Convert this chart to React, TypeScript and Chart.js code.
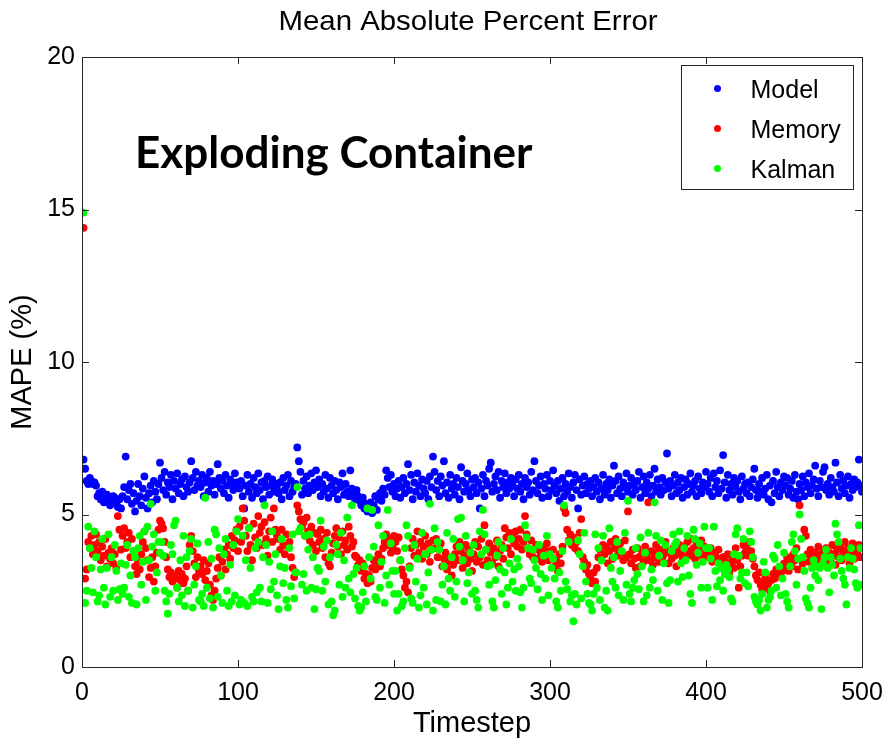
import React, { useEffect, useRef } from "react";
import { Chart, registerables } from "chart.js";

Chart.register(...registerables);

const chartTitle = "Mean Absolute Percent Error";
const annotationText = "Exploding Container";
const xAxisTitle = "Timestep";
const yAxisTitle = "MAPE (%)";
const xTicks = [0, 100, 200, 300, 400, 500];
const yTicks = [0, 5, 10, 15, 20];
const seriesNames = ["Model", "Memory", "Kalman"];
const seriesColors = ["#0000ff", "#ff0000", "#00ff00"];

const model = [
  6.8, 6.5, 6.1, 6.0, 6.2, 6.1, 6.0, 6.05, 5.95, 5.6, 5.7, 5.5, 5.75, 5.4, 5.6, 5.65, 5.5, 5.3, 5.45, 5.6, 5.55, 5.35, 5.25, 5.5, 5.2,
  5.6, 5.9, 6.9, 5.5, 5.8, 6.0, 5.35, 5.7, 5.1, 5.45, 6.0, 5.6, 5.3, 5.85, 6.25, 5.55, 5.2, 5.7, 5.95, 5.4, 6.1, 5.75, 5.5, 6.0, 6.7,
  6.2, 5.8, 6.4, 5.65, 6.05, 5.9, 6.3, 5.5, 6.1, 5.85, 6.35, 5.7, 6.0, 6.15, 5.6, 6.25, 5.9, 5.75, 6.05, 6.75, 6.2, 5.8, 6.4, 5.95, 6.1,
  5.9, 6.3, 5.6, 6.05, 6.2, 5.75, 6.4, 5.95, 6.1, 5.65, 6.0, 6.65, 6.2, 5.85, 6.1, 5.7, 6.3, 5.95, 5.55, 6.15, 6.0, 5.8, 6.35, 6.05, 5.9,
  5.85, 6.1, 5.6, 5.2, 5.95, 6.3, 5.75, 6.0, 5.55, 6.2, 5.9, 5.7, 6.35, 5.8, 6.05, 5.5, 6.1, 5.9, 6.25, 5.65, 5.95, 6.15, 5.75, 6.0, 5.85,
  5.7, 6.05, 5.5, 6.2, 5.8, 5.95, 6.3, 5.6, 6.1, 5.75, 5.9, 6.0, 7.2, 6.75, 6.4, 5.65, 6.1, 5.85, 6.25, 5.7, 5.95, 6.35, 5.8, 6.05, 6.45,
  5.9, 6.15, 5.6, 6.0, 5.75, 6.3, 5.85, 5.55, 6.2, 5.95, 5.7, 6.1, 5.8, 5.5, 6.05, 5.9, 6.35, 5.65, 6.0, 5.75, 5.6, 6.45, 5.85, 5.7, 5.5,
  5.8, 5.6, 5.45, 5.3, 5.55, 5.2, 5.35, 5.1, 5.25, 5.4, 5.05, 5.3, 5.6, 5.15, 5.5, 5.7, 5.45, 5.85, 5.65, 6.45, 6.2, 5.9, 6.3, 5.75, 6.0,
  5.6, 5.85, 6.1, 5.55, 5.9, 6.2, 5.7, 6.0, 6.65, 5.8, 6.3, 5.5, 6.05, 5.75, 6.35, 5.95, 5.6, 6.15, 5.85, 5.7, 6.1, 5.5, 6.25, 5.9, 6.9,
  6.4, 5.8, 6.1, 5.6, 6.25, 5.95, 6.75, 5.7, 6.05, 5.55, 6.3, 5.85, 6.0, 5.65, 6.2, 5.9, 5.5, 6.55, 6.1, 5.75, 6.0, 6.35, 5.8, 5.6, 6.15,
  5.9, 6.2, 5.7, 6.05, 5.2, 5.85, 6.3, 5.6, 6.1, 5.95, 6.5, 6.7, 5.75, 6.0, 6.25, 5.8, 6.4, 5.55, 6.1, 5.9, 6.35, 5.7, 6.05, 5.85, 6.2,
  5.95, 5.6, 6.15, 5.85, 6.3, 5.75, 6.0, 5.5, 6.2, 5.9, 6.05, 5.65, 6.4, 5.8, 6.75, 6.1, 5.7, 5.95, 6.25, 5.55, 6.0, 5.85, 6.3, 5.6, 6.1,
  5.8, 6.45, 5.95, 5.7, 6.1, 5.45, 5.85, 6.2, 5.6, 6.0, 5.75, 6.35, 5.9, 5.55, 6.05, 6.3, 5.8, 5.2, 6.15, 5.65, 5.95, 6.25, 5.7, 6.0, 5.85,
  6.1, 5.6, 5.9, 6.2, 5.75, 6.05, 5.5, 5.85, 6.3, 5.65, 6.0, 5.8, 6.15, 5.55, 5.95, 6.6, 6.1, 5.7, 6.25, 5.85, 5.6, 6.05, 5.9, 6.35, 5.75,
  5.95, 6.2, 5.65, 6.0, 5.8, 6.1, 6.4, 5.55, 5.9, 6.25, 5.7, 6.05, 5.85, 6.3, 5.6, 5.95, 6.5, 5.75, 6.15, 5.9, 5.65, 6.2, 5.8, 6.05, 7.0,
  5.85, 6.1, 5.6, 5.95, 6.3, 5.7, 6.05, 5.8, 6.2, 5.55, 5.9, 6.15, 5.65, 6.0, 6.35, 5.75, 5.95, 6.1, 5.6, 6.25, 5.85, 5.7, 6.05, 5.9, 6.4,
  6.0, 5.75, 6.2, 5.6, 6.35, 5.9, 6.1, 5.7, 6.45, 5.85, 6.95, 6.05, 5.55, 6.3, 5.8, 6.0, 5.65, 6.2, 5.9, 6.1, 5.75, 5.5, 6.25, 5.85, 6.0,
  5.7, 6.05, 5.6, 5.9, 6.15, 6.5, 5.8, 5.55, 6.0, 5.75, 6.2, 5.65, 5.85, 6.3, 5.5, 5.95, 5.4, 6.1, 5.7, 6.4, 5.9, 5.6, 6.05, 5.8, 6.25,
  5.95, 6.2, 5.65, 5.85, 6.1, 5.55, 6.3, 5.75, 5.5, 6.0, 5.8, 6.25, 5.6, 6.05, 5.9, 6.35, 5.7, 5.95, 6.15, 6.6, 5.85, 5.6, 6.1, 5.9, 6.4,
  6.55, 5.8, 6.0, 5.65, 6.2, 5.9, 5.75, 6.7, 6.05, 5.6, 6.3, 5.85, 6.1, 5.7, 5.95, 6.25, 5.55, 6.0, 5.8, 6.15, 5.9, 6.05, 6.8, 5.95, 5.75,
];

const memory = [
  14.4, 2.9, 3.2, 4.1, 3.9, 4.3, 3.7, 4.0, 4.35, 3.8, 4.1, 3.5, 3.95, 3.65, 4.2, 3.3, 3.75, 3.55, 3.9, 3.4, 3.7, 3.25, 4.95, 4.5, 3.85,
  4.3, 4.55, 3.9, 4.1, 4.4, 3.6, 4.2, 3.8, 3.3, 3.05, 3.45, 3.2, 3.7, 4.1, 4.45, 3.9, 3.5, 2.95, 3.25, 3.6, 2.8, 3.3, 3.75, 4.5, 4.8,
  4.7, 4.55, 4.1, 3.6, 3.2, 2.95, 3.1, 2.8, 3.0, 2.9, 2.6, 3.15, 2.85, 3.05, 2.75, 2.9, 3.3, 2.5, 4.0, 4.3, 3.8, 3.4, 2.95, 3.6, 3.15,
  3.3, 3.05, 3.5, 2.85, 3.15, 3.4, 2.7, 2.35, 2.2, 2.5, 2.9, 3.25, 3.6, 3.0, 3.45, 3.85, 3.2, 3.7, 4.0, 3.55, 4.3, 3.9, 4.15, 4.5, 3.8,
  4.6, 4.1, 5.2, 4.8, 4.3, 3.8, 4.55, 4.0, 3.5, 4.7, 4.25, 3.9, 4.95, 4.4, 4.6, 4.0, 4.75, 4.2, 3.65, 4.45, 4.9, 4.1, 5.2, 4.5, 4.3,
  4.2, 3.85, 4.5, 4.0, 3.7, 4.35, 3.95, 4.1, 3.6, 3.25, 2.95, 3.1, 5.3, 5.1, 4.85, 4.6, 4.75, 4.3, 4.9, 4.45, 4.15, 4.6, 4.0, 4.4, 3.8,
  4.35, 4.1, 4.5, 3.9, 4.2, 3.6, 4.4, 3.4, 3.3, 3.75, 4.05, 4.3, 4.55, 3.95, 4.25, 3.7, 4.45, 4.0, 4.15, 3.85, 4.6, 4.3, 3.95, 4.1, 3.65,
  3.6, 3.35, 3.5, 3.15, 3.4, 2.9, 3.05, 2.75, 3.0, 2.8, 3.25, 3.5, 3.2, 3.45, 3.7, 3.3, 3.55, 3.9, 4.1, 4.35, 4.0, 4.2, 3.75, 3.95, 4.3,
  4.1, 3.8, 4.25, 3.5, 3.2, 3.0, 2.6, 2.8, 2.45, 3.3, 3.9, 4.2, 3.65, 4.0, 4.45, 3.75, 4.1, 3.55, 3.95, 4.3, 3.7, 4.05, 3.45, 3.85, 4.15,
  3.9, 4.2, 3.6, 3.85, 4.05, 3.3, 3.55, 3.75, 3.2, 3.45, 3.6, 3.0, 3.35, 3.7, 3.95, 3.5, 4.1, 3.8, 3.25, 3.65, 4.0, 3.4, 3.85, 3.55, 3.15,
  3.7, 4.1, 3.45, 3.95, 3.6, 4.2, 3.35, 4.65, 3.85, 3.5, 4.05, 3.75, 3.4, 3.9, 3.6, 4.15, 3.3, 3.8, 4.0, 3.55, 4.55, 4.25, 3.9, 4.4, 3.7,
  4.3, 4.05, 4.45, 3.95, 4.2, 4.5, 3.85, 4.1, 4.95, 4.35, 3.9, 3.7, 4.15, 3.6, 3.85, 4.0, 3.55, 3.95, 3.75, 3.45, 3.9, 3.65, 4.05, 3.5, 3.8,
  3.6, 3.85, 3.3, 3.5, 3.15, 3.7, 3.4, 3.95, 5.2, 5.05, 4.5, 4.15, 4.35, 4.0, 4.25, 3.9, 4.1, 3.8, 4.4, 4.85, 3.6, 3.45, 3.2, 3.35, 3.05,
  2.9, 2.75, 3.1, 2.8, 3.25, 3.6, 3.85, 3.5, 4.0, 3.7, 3.95, 3.4, 3.8, 4.1, 3.55, 3.9, 4.2, 3.65, 3.85, 4.05, 3.75, 3.5, 4.15, 3.6, 5.1,
  3.7, 3.4, 3.85, 3.55, 3.25, 3.9, 3.6, 3.3, 3.75, 3.45, 3.95, 3.65, 5.4, 3.5, 3.8, 3.35, 3.6, 4.0, 3.75, 3.45, 3.85, 3.55, 3.7, 4.1, 3.8,
  3.4, 3.75, 3.55, 3.9, 3.65, 3.3, 3.85, 4.0, 3.7, 3.5, 3.95, 3.6, 4.1, 3.8, 4.2, 3.65, 3.9, 3.55, 4.05, 3.75, 3.85, 4.15, 3.6, 3.95, 3.7,
  3.8, 3.6, 3.9, 3.45, 3.75, 3.65, 3.5, 3.85, 3.55, 3.35, 3.6, 3.2, 3.45, 3.7, 3.05, 3.4, 3.6, 3.25, 3.9, 3.5, 2.6, 3.3, 3.65, 4.0, 3.75,
  3.9, 3.65, 4.1, 3.8, 3.55, 3.3, 3.0, 2.85, 3.1, 2.7, 2.55, 2.8, 2.95, 2.6, 2.75, 2.5, 2.85, 3.05, 2.9, 3.2, 3.0, 3.25, 2.95, 3.15, 3.4,
  3.35, 3.6, 3.15, 3.45, 3.3, 3.7, 3.5, 3.9, 3.2, 5.3, 3.55, 3.4, 4.5, 4.3, 3.7, 3.45, 3.85, 3.6, 3.3, 3.75, 3.5, 3.95, 3.65, 3.4, 3.8,
  3.6, 3.9, 3.45, 3.75, 3.55, 4.0, 3.7, 3.35, 3.85, 3.6, 3.95, 3.5, 3.8, 4.1, 3.65, 3.9, 3.4, 3.75, 4.05, 3.55, 3.85, 3.7, 4.0, 3.6, 3.9,
];

const kalman = [
  14.9, 2.1, 2.5, 4.6, 3.9, 3.25, 2.45, 4.45, 3.6, 2.15, 2.35, 3.2, 4.2, 2.6, 2.05, 3.25, 4.35, 2.3, 3.6, 2.5, 4.0, 3.15, 2.2, 2.55, 3.4,
  2.4, 2.6, 3.35, 4.0, 2.3, 3.0, 2.1, 3.8, 3.6, 2.05, 3.9, 4.3, 2.7, 3.45, 4.45, 2.2, 4.6, 3.5, 5.35, 3.95, 4.35, 2.5, 3.1, 4.1, 3.75,
  4.1, 3.65, 2.5, 2.15, 1.75, 2.4, 4.0, 3.7, 4.65, 4.8, 2.6, 2.15, 3.5, 2.35, 4.3, 2.0, 3.6, 2.5, 3.8, 4.2, 1.95, 2.7, 3.3, 4.05, 2.2,
  2.15, 2.4, 2.0, 5.55, 2.6, 4.1, 2.25, 3.55, 1.95, 4.5, 4.35, 2.3, 3.9, 3.0, 2.1, 3.7, 4.2, 2.5, 2.0, 3.35, 2.15, 4.0, 2.35, 4.45, 4.85,
  2.05, 2.2, 4.3, 2.1, 3.5, 2.0, 4.55, 3.25, 2.3, 2.15, 3.9, 2.45, 4.1, 2.6, 2.15, 3.6, 5.3, 4.0, 2.1, 3.45, 2.55, 4.45, 2.8, 3.7, 2.35,
  1.9, 3.3, 4.2, 2.75, 3.25, 2.2, 1.95, 3.9, 2.65, 4.35, 2.25, 3.1, 5.9, 4.45, 4.55, 2.7, 3.05, 4.3, 2.5, 3.85, 4.35, 2.6, 3.6, 1.9, 2.55,
  3.25, 3.15, 4.8, 2.5, 3.95, 2.8, 4.15, 2.05, 3.6, 2.15, 1.7, 1.85, 4.0, 3.7, 2.7, 4.4, 2.3, 3.5, 2.6, 4.9, 2.9, 2.45, 5.3, 3.05, 2.25,
  3.25, 2.0, 1.85, 1.95, 2.45, 3.3, 2.15, 5.2, 3.6, 2.9, 5.15, 3.95, 2.3, 2.2, 4.65, 2.6, 3.45, 4.3, 2.1, 3.0, 5.15, 2.7, 4.05, 3.15, 2.4,
  3.15, 1.85, 2.4, 3.5, 2.0, 2.15, 3.9, 4.65, 4.3, 3.25, 2.25, 2.1, 4.0, 2.8, 3.55, 1.95, 2.35, 4.4, 2.6, 3.7, 2.05, 3.1, 5.35, 3.85, 1.85,
  4.55, 2.2, 4.1, 3.85, 2.15, 2.7, 3.3, 2.05, 4.4, 2.9, 2.5, 3.6, 4.2, 2.3, 2.8, 4.85, 3.95, 4.9, 3.5, 2.15, 4.3, 2.75, 3.1, 3.75, 2.4,
  4.0, 2.5, 2.2, 1.95, 4.45, 3.7, 5.15, 4.35, 3.85, 3.3, 2.7, 3.35, 2.15, 1.95, 2.85, 3.65, 4.1, 3.2, 2.4, 3.9, 3.1, 2.05, 2.6, 3.4, 4.2,
  2.8, 3.2, 2.5, 3.55, 3.3, 2.45, 1.95, 2.6, 4.65, 4.25, 3.9, 2.9, 2.75, 3.85, 3.5, 3.25, 2.55, 4.0, 3.05, 2.2, 3.65, 2.9, 4.3, 2.35, 3.7,
  3.25, 3.55, 2.9, 2.15, 1.95, 3.1, 2.5, 3.8, 5.3, 2.8, 2.55, 4.1, 2.15, 2.35, 1.5, 2.4, 2.05, 4.15, 3.7, 2.25, 3.3, 4.4, 2.8, 2.4, 2.1,
  2.05, 1.85, 2.4, 4.35, 2.6, 3.9, 2.2, 3.5, 4.3, 1.95, 2.5, 1.85, 4.55, 3.25, 2.8, 3.6, 2.6, 4.1, 2.35, 3.15, 3.8, 2.2, 4.4, 2.7, 5.45,
  2.4, 2.15, 2.6, 2.85, 3.9, 3.05, 2.55, 4.25, 3.3, 2.15, 3.75, 2.35, 4.4, 2.6, 3.2, 2.85, 5.4, 4.3, 2.5, 3.65, 4.15, 2.2, 3.4, 4.0, 2.75,
  2.1, 2.85, 3.8, 4.35, 4.0, 4.1, 2.8, 4.45, 3.4, 2.95, 3.9, 3.5, 4.3, 3.0, 2.4, 2.1, 4.5, 4.2, 3.35, 3.75, 4.05, 2.6, 3.45, 4.6, 3.9,
  2.6, 3.9, 3.55, 2.2, 4.6, 3.15, 2.65, 3.4, 2.85, 3.25, 2.5, 3.05, 3.35, 3.2, 2.95, 2.25, 2.15, 3.7, 4.35, 4.55, 3.65, 2.9, 3.1, 4.2, 2.75,
  3.1, 2.65, 4.45, 4.1, 3.6, 2.3, 2.15, 2.05, 2.2, 1.85, 2.4, 3.45, 3.1, 1.95, 2.2, 2.3, 2.5, 3.65, 3.55, 2.6, 4.0, 3.3, 2.35, 2.9, 3.75,
  2.4, 2.15, 1.95, 3.3, 4.1, 4.35, 3.8, 2.7, 3.55, 5.0, 4.2, 3.6, 3.15, 2.25, 2.1, 1.95, 2.6, 3.25, 3.5, 3.0, 3.3, 2.85, 3.25, 1.9, 3.4,
  3.6, 3.85, 3.25, 2.45, 3.6, 3.35, 3.0, 4.7, 4.35, 4.1, 3.55, 3.15, 2.9, 2.7, 2.05, 3.6, 3.25, 3.9, 3.55, 3.2, 2.75, 2.6, 4.65, 3.9, 2.7,
];

const seriesValues = [model, memory, kalman];
const annotationAt = { x: 34, y: 16.35 };

const FONT = "'Liberation Sans', Arial, sans-serif";

function toPoints(values: number[]) {
  return values.map((v, i) => ({ x: i + 1, y: v }));
}

const framePlugin = {
  id: "matlabFrame",
  afterDatasetsDraw(chart: any) {
    const { ctx, chartArea, scales } = chart;
    const { left, right, top, bottom } = chartArea;
    const xs = scales.x;
    const ys = scales.y;
    ctx.save();

    // title, centred over the plot box, slightly widened like the MATLAB rendering
    ctx.fillStyle = "#000";
    ctx.font = `28px ${FONT}`;
    ctx.textAlign = "center";
    ctx.textBaseline = "alphabetic";
    ctx.save();
    ctx.translate((left + right) / 2 - 4, top - 27);
    ctx.scale(1.05, 1);
    ctx.fillText(chartTitle, 0, 0);
    ctx.restore();

    // axes box with inward ticks
    ctx.strokeStyle = "#262626";
    ctx.lineWidth = 1;
    ctx.strokeRect(Math.round(left) + 0.5, Math.round(top) + 0.5, Math.round(right - left), Math.round(bottom - top));
    const tl = 7;
    ctx.beginPath();
    xTicks.forEach((v) => {
      const px = Math.round(xs.getPixelForValue(v)) + 0.5;
      ctx.moveTo(px, bottom);
      ctx.lineTo(px, bottom - tl);
      ctx.moveTo(px, top);
      ctx.lineTo(px, top + tl);
    });
    yTicks.forEach((v) => {
      const py = Math.round(ys.getPixelForValue(v)) + 0.5;
      ctx.moveTo(left, py);
      ctx.lineTo(left + tl, py);
      ctx.moveTo(right, py);
      ctx.lineTo(right - tl, py);
    });
    ctx.stroke();

    // annotation
    ctx.fillStyle = "#000";
    ctx.font = "bold 44px Lato, 'Open Sans', sans-serif";
    ctx.textAlign = "left";
    ctx.textBaseline = "alphabetic";
    ctx.fillText(annotationText, xs.getPixelForValue(annotationAt.x), ys.getPixelForValue(annotationAt.y));

    // legend
    const bw = 172;
    const bh = 124;
    const bx = Math.round(right - 181) + 0.5;
    const by = Math.round(top + 8) + 0.5;
    ctx.fillStyle = "#fff";
    ctx.fillRect(bx, by, bw, bh);
    ctx.strokeStyle = "#262626";
    ctx.strokeRect(bx, by, bw, bh);
    ctx.font = `25px ${FONT}`;
    ctx.textBaseline = "middle";
    seriesNames.forEach((name, i) => {
      const cy = by + 23 + i * 40;
      ctx.fillStyle = seriesColors[i];
      ctx.beginPath();
      ctx.arc(bx + 36, cy, 3.5, 0, Math.PI * 2);
      ctx.fill();
      ctx.fillStyle = "#000";
      ctx.fillText(name, bx + 69, cy + 3);
    });
    ctx.restore();
  },
};

export default function App() {
  const ref = useRef<HTMLCanvasElement | null>(null);
  useEffect(() => {
    if (!ref.current) return;
    const chart = new Chart(ref.current, {
      type: "scatter",
      data: {
        datasets: seriesNames.map((name, i) => ({
          label: name,
          data: toPoints(seriesValues[i]),
          backgroundColor: seriesColors[i],
          borderColor: seriesColors[i],
          pointRadius: 3.9,
          pointBorderWidth: 0,
          pointHoverRadius: 3.9,
          order: 2 - i,
        })),
      },
      options: {
        responsive: false,
        animation: false,
        devicePixelRatio: 1,
        layout: { padding: { top: 57, right: 21, bottom: 0, left: 0 } },
        plugins: {
          legend: { display: false },
          tooltip: { enabled: false },
          title: { display: false },
        },
        scales: {
          x: {
            type: "linear",
            min: 0,
            max: 500,
            afterBuildTicks: (s: any) => {
              s.ticks = xTicks.map((v) => ({ value: v }));
            },
            afterFit: (s: any) => {
              s.height = 78;
              s.paddingLeft = 0;
              s.paddingRight = 0;
            },
            grid: { display: false, drawTicks: false },
            border: { display: false },
            ticks: { color: "#000", font: { family: FONT, size: 25 }, padding: 11, maxRotation: 0, autoSkip: false },
            title: {
              display: true,
              text: xAxisTitle,
              color: "#000",
              font: { family: FONT, size: 29 },
              padding: { top: 0, bottom: 4 },
            },
          },
          y: {
            type: "linear",
            min: 0,
            max: 20,
            afterBuildTicks: (s: any) => {
              s.ticks = yTicks.map((v) => ({ value: v }));
            },
            afterFit: (s: any) => {
              s.width = 82;
              s.paddingTop = 0;
              s.paddingBottom = 0;
            },
            grid: { display: false, drawTicks: false },
            border: { display: false },
            ticks: { color: "#000", font: { family: FONT, size: 25 }, padding: 7, autoSkip: false },
            title: {
              display: true,
              text: yAxisTitle,
              color: "#000",
              font: { family: FONT, size: 29 },
              padding: { top: 6, bottom: 0 },
            },
          },
        },
      },
      plugins: [framePlugin],
    });
    return () => chart.destroy();
  }, []);
  return (
    <div style={{ position: "fixed", left: 0, top: 0, background: "#fff" }}>
      <canvas ref={ref} width={883} height={745} style={{ display: "block", width: 883, height: 745 }} />
    </div>
  );
}
